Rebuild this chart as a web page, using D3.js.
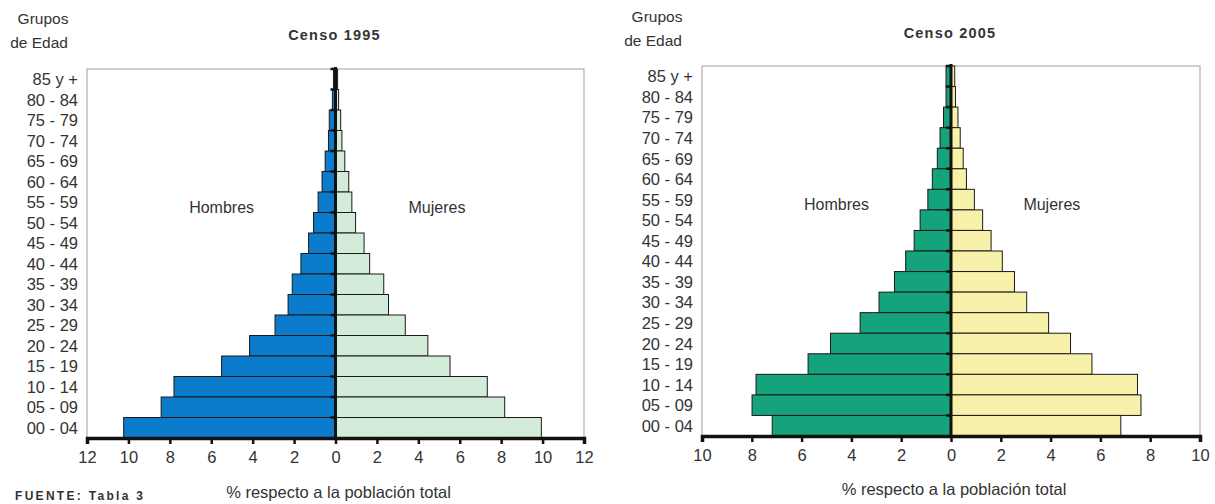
<!DOCTYPE html>
<html>
<head>
<meta charset="utf-8">
<script src="https://cdn.jsdelivr.net/npm/d3@7"></script>
<style>
  html, body { margin: 0; padding: 0; background: #fff; }
  svg { display: block; }
  text { font-family: "Liberation Sans", Arial, sans-serif; fill: #333; }
</style>
</head>
<body>
<svg id="chart" width="1215" height="504"></svg>
<script>
// Age groups, from oldest (top) to youngest (bottom)
const ageGroups = ["85 y +", "80 - 84", "75 - 79", "70 - 74", "65 - 69", "60 - 64", "55 - 59",
  "50 - 54", "45 - 49", "40 - 44", "35 - 39", "30 - 34", "25 - 29", "20 - 24",
  "15 - 19", "10 - 14", "05 - 09", "00 - 04"];

// Censo 1995 (% of total population)
const hombres1995 = [0.1, 0.15, 0.3, 0.34, 0.5, 0.65, 0.84, 1.06, 1.3, 1.67, 2.09, 2.29, 2.92, 4.15, 5.5, 7.8, 8.42, 10.23];
const mujeres1995 = [0.1, 0.15, 0.25, 0.31, 0.45, 0.64, 0.79, 0.97, 1.38, 1.65, 2.33, 2.56, 3.37, 4.46, 5.53, 7.33, 8.17, 9.94];

// Censo 2005
const hombres2005 = [0.2, 0.2, 0.3, 0.44, 0.55, 0.75, 0.93, 1.24, 1.48, 1.82, 2.27, 2.89, 3.65, 4.84, 5.74, 7.83, 7.99, 7.18];
const mujeres2005 = [0.15, 0.18, 0.28, 0.37, 0.49, 0.62, 0.94, 1.27, 1.61, 2.06, 2.55, 3.04, 3.92, 4.8, 5.66, 7.49, 7.63, 6.82];

const ticks1995 = [-12, -10, -8, -6, -4, -2, 0, 2, 4, 6, 8, 10, 12];
const ticks2005 = [-10, -8, -6, -4, -2, 0, 2, 4, 6, 8, 10];

const svg = d3.select("#chart");

function pyramid(opt) {
  const g = svg.append("g");
  const x = d3.scaleLinear().domain(opt.domain).range([opt.left, opt.right]);
  const y = d3.scaleBand().domain(ageGroups).range([opt.top, opt.bottom]).paddingInner(0).paddingOuter(0);
  const x0 = x(0);

  // plot frame
  g.append("rect")
    .attr("x", opt.left).attr("y", opt.top)
    .attr("width", opt.right - opt.left).attr("height", opt.bottom - opt.top)
    .attr("fill", "none").attr("stroke", "#a0a0a0").attr("stroke-width", 1);

  // bars
  g.selectAll(".m").data(ageGroups).enter().append("rect")
    .attr("x", (d, i) => x(-opt.men[i]))
    .attr("y", d => y(d))
    .attr("width", (d, i) => x0 - x(-opt.men[i]))
    .attr("height", y.bandwidth())
    .attr("fill", opt.menColor).attr("stroke", "#1a1a1a").attr("stroke-width", 1);
  g.selectAll(".w").data(ageGroups).enter().append("rect")
    .attr("x", x0)
    .attr("y", d => y(d))
    .attr("width", (d, i) => x(opt.women[i]) - x0)
    .attr("height", y.bandwidth())
    .attr("fill", opt.womenColor).attr("stroke", "#1a1a1a").attr("stroke-width", 1);

  // central axis with small ticks
  g.append("line")
    .attr("x1", x0).attr("x2", x0).attr("y1", opt.top - 2).attr("y2", opt.bottom)
    .attr("stroke", "#111").attr("stroke-width", 3);
  g.selectAll(".yt").data(ageGroups).enter().append("line")
    .attr("x1", x0 - 5).attr("x2", x0)
    .attr("y1", d => y(d)).attr("y2", d => y(d))
    .attr("stroke", "#111").attr("stroke-width", 2.5);

  // category labels
  g.selectAll(".lab").data(ageGroups).enter().append("text")
    .attr("x", opt.left - 9)
    .attr("y", d => y(d) + y.bandwidth() / 2 + 6)
    .attr("text-anchor", "end")
    .style("font-size", "16.5px")
    .text(d => d);

  // bottom axis
  const ax = d3.axisBottom(x).tickValues(opt.ticks).tickFormat(d => Math.abs(d)).tickSize(6).tickPadding(7);
  const axg = g.append("g").attr("transform", `translate(0,${opt.bottom})`).call(ax);
  axg.select(".domain").attr("stroke", "#111").attr("stroke-width", 3.5);
  axg.selectAll(".tick line").attr("stroke", "#111").attr("stroke-width", 2.5);
  axg.selectAll(".tick text").style("font-size", "16.5px").style("font-family", "'Liberation Sans', Arial, sans-serif").attr("fill", "#444");

  // texts
  g.append("text").attr("x", opt.grpX + 4).attr("y", opt.grpY).attr("text-anchor", "middle").style("font-size", "15.5px").text("Grupos");
  g.append("text").attr("x", opt.grpX).attr("y", opt.grpY + 24).attr("text-anchor", "middle").style("font-size", "15.5px").text("de Edad");
  g.append("text").attr("x", x0 - 1).attr("y", opt.titleY).attr("text-anchor", "middle")
    .style("font-size", "14.5px").style("font-weight", "bold").style("letter-spacing", "1.2px").attr("fill", "#222").text(opt.title);
  g.append("text").attr("x", x(opt.lblPos[0])).attr("y", opt.lblY).attr("text-anchor", "middle").style("font-size", "16px").text("Hombres");
  g.append("text").attr("x", x(opt.lblPos[1])).attr("y", opt.lblY).attr("text-anchor", "middle").style("font-size", "16px").text("Mujeres");
  g.append("text").attr("x", x0 + 3).attr("y", opt.xLabY).attr("text-anchor", "middle").style("font-size", "16.5px").text("% respecto a la población total");
}

pyramid({
  domain: [-12, 12], left: 87, right: 584, top: 69, bottom: 438,
  men: hombres1995, women: mujeres1995, ticks: ticks1995,
  menColor: "#0b7bcb", womenColor: "#d3ecd9",
  title: "Censo 1995", titleY: 40, grpX: 39, grpY: 24,
  lblPos: [-5.5, 4.9], lblY: 213, xLabY: 498
});

pyramid({
  domain: [-10, 10], left: 702, right: 1200, top: 66, bottom: 436,
  men: hombres2005, women: mujeres2005, ticks: ticks2005,
  menColor: "#14a37a", womenColor: "#f8f1a9",
  title: "Censo 2005", titleY: 38, grpX: 653, grpY: 22,
  lblPos: [-4.6, 4.05], lblY: 210, xLabY: 495
});

svg.append("text").attr("x", 15).attr("y", 500)
  .style("font-size", "12px").style("font-weight", "bold").style("letter-spacing", "2.3px").attr("fill", "#333")
  .text("FUENTE: Tabla 3");
</script>
</body>
</html>
